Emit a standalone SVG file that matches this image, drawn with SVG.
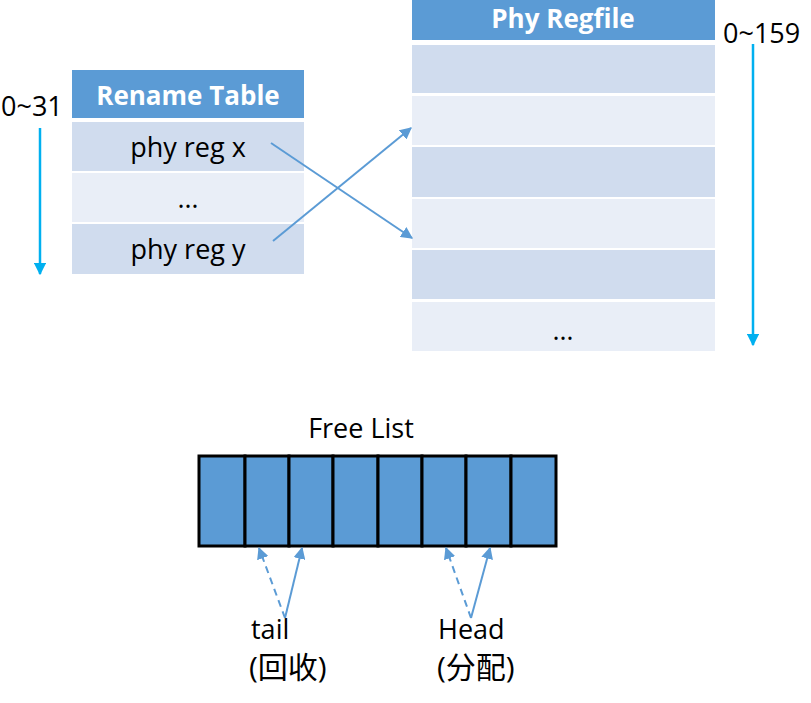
<svg xmlns="http://www.w3.org/2000/svg" width="811" height="703" viewBox="0 0 811 703">
<defs>
<style>
text{font-family:"Open Sans","Noto Sans CJK SC",sans-serif;font-size:27px;fill:#000}
.hd{fill:#5B9BD5}
.r1{fill:#D0DCEE}
.r2{fill:#E9EEF7}
.ht{font-weight:bold;font-size:26px;fill:#fff;text-anchor:middle}
.c{text-anchor:middle}
.cjk{font-size:30px}
.idx{stroke:#00B0F0;stroke-width:2.5;fill:none}
.map{stroke:#5B9BD5;stroke-width:2;fill:none}
.cell{fill:#5B9BD5;stroke:#000;stroke-width:3}
</style>
<marker id="ai" viewBox="0 0 10 10" refX="9" refY="5" markerWidth="5" markerHeight="5" orient="auto"><path d="M0,0L10,5L0,10z" fill="#00B0F0"/></marker>
<marker id="am" viewBox="0 0 10 10" refX="9" refY="5" markerWidth="6" markerHeight="6" orient="auto"><path d="M0,0L10,5L0,10z" fill="#5B9BD5"/></marker>
</defs>
<g id="rename-table">
<rect class="hd" x="72" y="70" width="232" height="48"/>
<text class="ht" x="188" y="105">Rename Table</text>
<rect class="r1" x="72" y="122" width="232" height="49"/>
<rect class="r2" x="72" y="173" width="232" height="49"/>
<rect class="r1" x="72" y="224" width="232" height="50"/>
<text class="c" x="188" y="157">phy reg x</text>
<text class="c" x="188" y="208">…</text>
<text class="c" x="188" y="259">phy reg y</text>
</g>
<g id="rename-index">
<text x="1" y="116">0~31</text>
</g>
<g id="phy-regfile">
<rect class="hd" x="412" y="0" width="303" height="40"/>
<text class="ht" x="563" y="28">Phy Regfile</text>
<rect class="r1" x="412" y="45" width="303" height="48"/>
<rect class="r2" x="412" y="96" width="303" height="49"/>
<rect class="r1" x="412" y="147" width="303" height="50"/>
<rect class="r2" x="412" y="199" width="303" height="49"/>
<rect class="r1" x="412" y="250" width="303" height="49"/>
<rect class="r2" x="412" y="302" width="303" height="49"/>
<text class="c" x="563" y="340">…</text>
</g>
<g id="regfile-index">
<text x="723" y="43">0~159</text>
</g>
<g id="free-list">
<text class="c" x="361" y="438">Free List</text>
<rect class="cell" x="199" y="456" width="46" height="90"/>
<rect class="cell" x="245" y="456" width="44" height="90"/>
<rect class="cell" x="289" y="456" width="44" height="90"/>
<rect class="cell" x="333" y="456" width="45" height="90"/>
<rect class="cell" x="378" y="456" width="44" height="90"/>
<rect class="cell" x="422" y="456" width="44" height="90"/>
<rect class="cell" x="466" y="456" width="45" height="90"/>
<rect class="cell" x="511" y="456" width="45" height="90"/>
</g>
<g id="tail-label">
<text x="251" y="639">tail</text>
<text class="cjk" x="249" y="678">(回收)</text>
</g>
<g id="head-label">
<text x="438" y="639">Head</text>
<text class="cjk" x="437" y="678">(分配)</text>
</g>
<g id="connectors">
<line class="idx" x1="40" y1="128" x2="40" y2="274" marker-end="url(#ai)"/>
<line class="idx" x1="753" y1="44" x2="753" y2="345" marker-end="url(#ai)"/>
<line class="map" x1="271" y1="143" x2="412" y2="238" marker-end="url(#am)"/>
<line class="map" x1="273" y1="241" x2="411" y2="128" marker-end="url(#am)"/>
<line class="map" x1="285" y1="618" x2="259" y2="548" stroke-dasharray="7,5" marker-end="url(#am)"/>
<line class="map" x1="285" y1="618" x2="302" y2="548" marker-end="url(#am)"/>
<line class="map" x1="471" y1="618" x2="446" y2="548" stroke-dasharray="7,5" marker-end="url(#am)"/>
<line class="map" x1="471" y1="618" x2="490" y2="548" marker-end="url(#am)"/>
</g>
</svg>
